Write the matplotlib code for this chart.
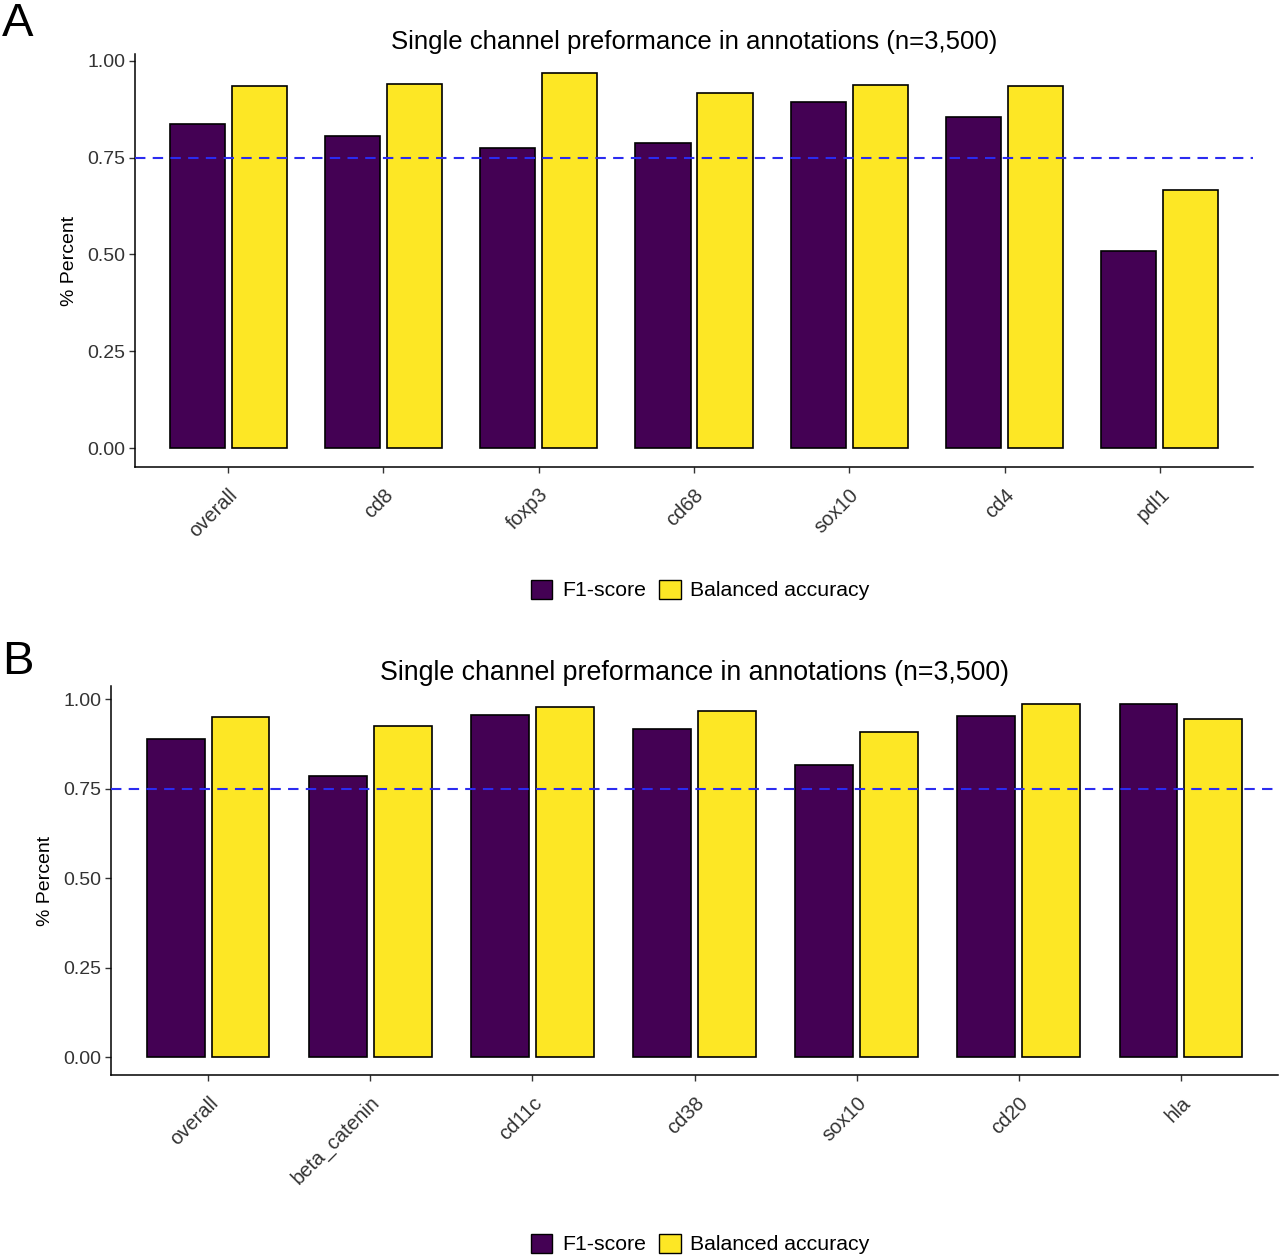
import matplotlib
matplotlib.use("Agg")
import matplotlib.pyplot as plt
import numpy as np
from matplotlib.patches import Patch

plt.rcParams['font.family'] = ['Liberation Sans', 'DejaVu Sans']

cats_a = ["overall", "cd8", "foxp3", "cd68", "sox10", "cd4", "pdl1"]
f1_a = [0.838, 0.807, 0.775, 0.787, 0.893, 0.854, 0.508]
ba_a = [0.934, 0.941, 0.969, 0.917, 0.937, 0.934, 0.666]

cats_b = ["overall", "beta_catenin", "cd11c", "cd38", "sox10", "cd20", "hla"]
f1_b = [0.888, 0.786, 0.956, 0.917, 0.818, 0.954, 0.988]
ba_b = [0.950, 0.927, 0.980, 0.967, 0.908, 0.986, 0.944]

yticks = [0.00, 0.25, 0.50, 0.75, 1.00]
ytick_labels = ["0.00", "0.25", "0.50", "0.75", "1.00"]
title = "Single channel preformance in annotations (n=3,500)"
series_names = ["F1-score", "Balanced accuracy"]
threshold = 0.75

PURPLE = "#440154"
YELLOW = "#FDE725"
W, H = 1280, 1258

fig = plt.figure(figsize=(W / 100, H / 100), dpi=100)


def px_axes(left, top, right, bottom):
    return fig.add_axes([left / W, 1 - bottom / H, (right - left) / W, (bottom - top) / H])


def panel(ax, cats, f1, ba, title_fs):
    x = np.arange(len(cats))
    bw = 0.355
    ax.bar(x - 0.2, f1, width=bw, color=PURPLE, edgecolor="black", linewidth=1.2, zorder=2)
    ax.bar(x + 0.2, ba, width=bw, color=YELLOW, edgecolor="black", linewidth=1.2, zorder=2)
    ax.axhline(threshold, color="#2b2bf0", linestyle=(0, (5, 3.5)), linewidth=1.5, zorder=3)
    ymax = max(max(f1), max(ba))
    ax.set_ylim(-0.05 * ymax, ymax * 1.05)
    ax.set_xlim(-0.6, len(cats) - 0.4)
    ax.set_xticks(x)
    ax.set_xticklabels(cats, rotation=45, ha="right", va="top", rotation_mode="anchor",
                       fontsize=14.5, color="#333333")
    ax.set_yticks(yticks)
    ax.set_yticklabels(ytick_labels, fontsize=14, color="#333333")
    ax.tick_params(axis="both", length=4, width=1, color="#333333")
    ax.tick_params(axis="x", pad=9)
    ax.tick_params(axis="y", pad=3)
    for s in ["top", "right"]:
        ax.spines[s].set_visible(False)
    for s in ["left", "bottom"]:
        ax.spines[s].set_linewidth(1.1)
    ax.set_ylabel("% Percent", fontsize=14, labelpad=7)
    ax.set_title(title, fontsize=title_fs, pad=3)


axA = px_axes(135, 54, 1253, 467)
panel(axA, cats_a, f1_a, ba_a, 18.5)
axB = px_axes(111, 686, 1278, 1075)
panel(axB, cats_b, f1_b, ba_b, 19.3)

handles = [Patch(facecolor=PURPLE, edgecolor="black", linewidth=1.0),
           Patch(facecolor=YELLOW, edgecolor="black", linewidth=1.0)]
for ycen in [590, 1244]:
    fig.legend(handles, series_names, loc="center", bbox_to_anchor=(700 / W, 1 - ycen / H),
               ncol=2, frameon=False, fontsize=15.3, handlelength=1.03, handleheight=1.03,
               columnspacing=0.6, handletextpad=0.45)

fig.text(2 / W, 1 - 2 / H, "A", fontsize=34, va="top", ha="left")
fig.text(2 / W, 1 - 640 / H, "B", fontsize=34, va="top", ha="left")

fig.savefig("out.png", dpi=100)
